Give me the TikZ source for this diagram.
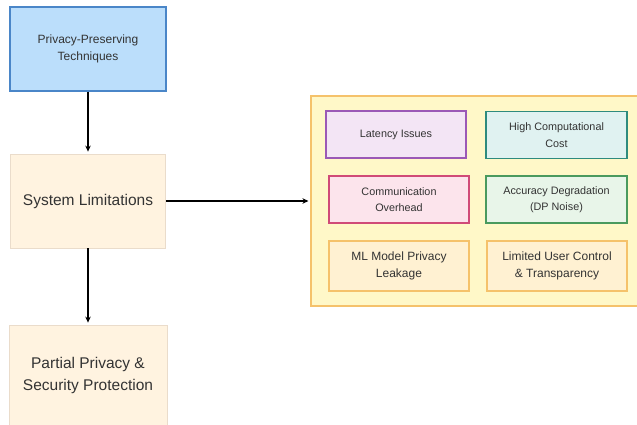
\documentclass[tikz,border=0pt]{standalone}
\usepackage{fontspec}
\setmainfont{Liberation Sans}
\usetikzlibrary{arrows.meta}
\definecolor{techfill}{HTML}{BBDEFB}
\definecolor{techline}{HTML}{4A86C8}
\definecolor{creamfill}{HTML}{FFF3E0}
\definecolor{creamline}{HTML}{EADCCB}
\definecolor{groupfill}{HTML}{FFF8C8}
\definecolor{groupline}{HTML}{F5C26B}
\definecolor{purplefill}{HTML}{F3E5F5}
\definecolor{purpleline}{HTML}{9B59B6}
\definecolor{tealfill}{HTML}{E0F2F1}
\definecolor{tealline}{HTML}{2E8B7E}
\definecolor{pinkfill}{HTML}{FCE4EC}
\definecolor{pinkline}{HTML}{D04B78}
\definecolor{greenfill}{HTML}{E8F5E9}
\definecolor{greenline}{HTML}{4A9A5E}
\definecolor{ambfill}{HTML}{FFF1D2}
\definecolor{txt}{HTML}{333333}
\begin{document}
\begin{tikzpicture}[x=1pt,y=-1pt,
    box/.style={draw,line width=1.1pt,align=center,text=txt,inner sep=0pt},
    bigtext/.style={font=\fontsize{15.5}{22.5}\selectfont},
    midtext/.style={font=\fontsize{12}{17.5}\selectfont},
    smalltext/.style={font=\fontsize{10.8}{16.3}\selectfont},
    issue/.style={box,smalltext,minimum width=140pt,minimum height=47pt},
    flow/.style={line width=1.6pt,-{Stealth[length=6pt,width=5.5pt]},shorten >=2pt}]
    \useasboundingbox (0,0) rectangle (637,425);% page size of the reference
    % left column
    \node[box,midtext,fill=techfill,draw=techline,minimum width=156pt,minimum height=84pt]
        (tech) at (88,49) {Privacy-Preserving\\Techniques};
    \node[box,bigtext,fill=creamfill,draw=creamline,line width=0.8pt,minimum width=155pt,minimum height=94pt]
        (limits) at (88,201) {System Limitations};
    \node[box,bigtext,fill=creamfill,draw=creamline,line width=0.8pt,minimum width=158pt,minimum height=101pt]
        (partial) at (88,375.5) {Partial Privacy \&\\Security Protection};
    % group of limitations
    \node[box,fill=groupfill,draw=groupline,minimum width=342pt,minimum height=210pt]
        (issues) at (482,201) {};
    \node[issue,fill=purplefill,draw=purpleline] (latency) at (396,134.5) {Latency Issues};
    \node[issue,fill=tealfill,draw=tealline,minimum width=141pt] (cost) at (556.5,135) {High Computational\\Cost};
    \node[issue,fill=pinkfill,draw=pinkline] (comm) at (399,199.5) {Communication\\Overhead};
    \node[issue,fill=greenfill,draw=greenline,minimum width=141pt] (accuracy) at (556.5,199.5) {Accuracy Degradation\\(DP Noise)};
    \node[issue,midtext,fill=ambfill,draw=groupline,minimum height=50pt] (leakage) at (399,266) {ML Model Privacy\\Leakage};
    \node[issue,midtext,fill=ambfill,draw=groupline,minimum height=50pt] (control) at (557,266) {Limited User Control\\\& Transparency};
    % connectors
    \draw[flow] (tech.south) -- (limits.north);
    \draw[flow] (limits.south) -- (partial.north);
    \draw[flow] (limits.east) -- (issues.west);
\end{tikzpicture}
\end{document}
